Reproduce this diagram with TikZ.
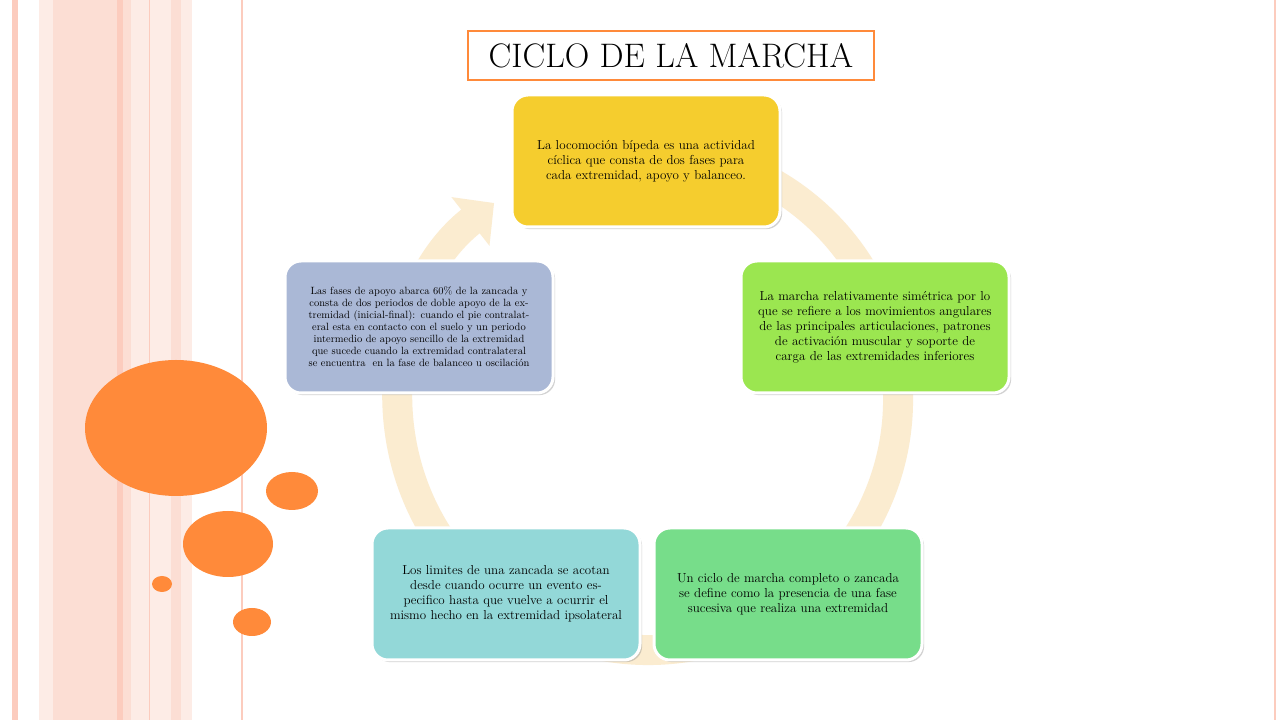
\documentclass[tikz,border=0pt]{standalone}
\usepackage{xcolor}
\usetikzlibrary{arrows.meta,shadows}
\definecolor{stripeA}{RGB}{252,204,190}
\definecolor{stripeB}{RGB}{253,236,230}
\definecolor{stripeC}{RGB}{252,222,212}
\definecolor{ringc}{RGB}{251,236,208}
\definecolor{dotc}{RGB}{255,138,58}
\definecolor{cyel}{RGB}{245,205,46}
\definecolor{cgrn}{RGB}{155,230,80}
\definecolor{cmint}{RGB}{119,221,138}
\definecolor{ccyan}{RGB}{147,216,216}
\definecolor{cgray}{RGB}{170,184,214}
\tikzset{
  phase/.style={draw=white, line width=3pt, rounded corners=16pt, minimum width=268pt,
    minimum height=132pt, text width=245pt, align=center,
    font=\fontsize{13}{15}\selectfont, drop shadow={opacity=0.35}},
  dot/.style={fill=dotc, draw=none}
}
\begin{document}
\begin{tikzpicture}[x=1pt,y=1pt]
\useasboundingbox (0,0) rectangle (1280,720);
\fill[white] (0,0) rectangle (1280,720);
% stripes on the left
\fill[stripeA] (12,0) rectangle (18,720);
\fill[stripeB] (39,0) rectangle (53,720);
\fill[stripeC] (53,0) rectangle (117,720);
\fill[stripeA] (117,0) rectangle (123,720);
\fill[stripeC] (123,0) rectangle (131,720);
\fill[stripeB] (131,0) rectangle (171,720);
\draw[stripeA] (149.5,0) -- (149.5,720);
\fill[stripeC] (171,0) rectangle (181,720);
\fill[stripeB] (181,0) rectangle (192,720);
\fill[stripeA] (241,0) rectangle (243,720);
\fill[stripeA] (1274,0) rectangle (1276,720);
% orange dots
\fill[dot] (176,292) ellipse [x radius=91, y radius=68];
\fill[dot] (292,229) ellipse [x radius=26, y radius=19];
\fill[dot] (228,176) ellipse [x radius=45, y radius=33];
\fill[dot] (162,136) ellipse [x radius=10, y radius=8];
\fill[dot] (252,98) ellipse [x radius=19, y radius=14];
% ring
\coordinate (c) at (648,320);
\draw[ringc, line width=30pt, -{Triangle[width=60pt,length=30pt]}]
  ([shift={(475:250)}]c) arc[start angle=475, end angle=128, radius=250];
% title
\node[draw=dotc, line width=2pt, minimum width=406pt, minimum height=49pt,
  font=\fontsize{34}{36}\selectfont, fill=white] (title) at (671,664) {CICLO DE LA MARCHA};
% phases
\node[phase, fill=cyel] (p1) at (646,559) {La locomoción bípeda es una actividad cíclica que consta de dos fases para cada extremidad, apoyo y balanceo.};
\node[phase, fill=cgrn] (p2) at (875,393) {La marcha relativamente simétrica por lo que se refiere a los movimientos angulares de las principales articulaciones, patrones de activación muscular y soporte de carga de las extremidades inferiores};
\node[phase, fill=cmint] (p3) at (788,126) {Un ciclo de marcha completo o zancada se define como la presencia de una fase sucesiva que realiza una extremidad};
\node[phase, fill=ccyan] (p4) at (506,126) {Los limites de una zancada se acotan desde cuando ocurre un evento especifico hasta que vuelve a ocurrir el mismo hecho en la extremidad ipsolateral};
\node[phase, fill=cgray, text width=250pt, font=\fontsize{10.5}{12}\selectfont] (p5) at (419,393) {Las fases de apoyo abarca 60\% de la zancada y \ consta de dos periodos de doble apoyo de la extremidad (inicial-final): cuando el pie contralateral esta en contacto con el suelo y un periodo intermedio de apoyo sencillo de la extremidad que sucede cuando la extremidad contralateral se encuentra \ en la fase de balanceo u oscilación};
\end{tikzpicture}
\end{document}
